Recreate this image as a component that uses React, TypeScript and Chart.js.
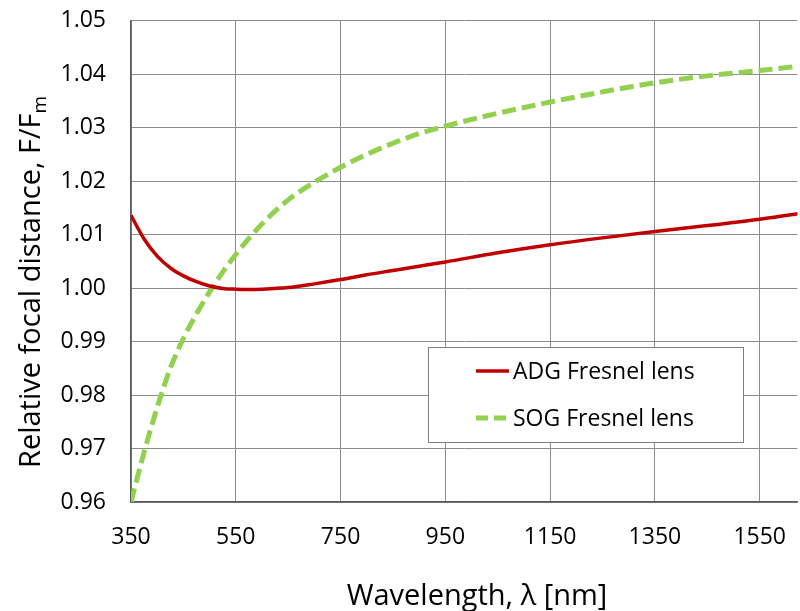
import React, { useEffect, useRef } from "react";
import { Chart, registerables } from "chart.js";

Chart.register(...registerables);

const WAVELENGTH = [350, 375, 400, 425, 450, 475, 500, 525, 550, 575, 600, 650, 700, 750, 800, 850, 900, 950, 1050, 1150, 1250, 1350, 1450, 1550, 1650];
const ADG = [1.0136, 1.0092, 1.0060, 1.0038, 1.0023, 1.0012, 1.0004, 0.99995, 0.9998, 0.99975, 0.9998, 1.0001, 1.0008, 1.0016, 1.0025, 1.0033, 1.0041, 1.0049, 1.0066, 1.0081, 1.0094, 1.0106, 1.0117, 1.0129, 1.0143];
const SOG = [0.9600, 0.9693, 0.9777, 0.9850, 0.9906, 0.9952, 0.9993, 1.0030, 1.0063, 1.0093, 1.0120, 1.0165, 1.0198, 1.0226, 1.0250, 1.0271, 1.0289, 1.0303, 1.0327, 1.0348, 1.0367, 1.0384, 1.0397, 1.0407, 1.0418];
const X_TICKS = [350, 550, 750, 950, 1150, 1350, 1550];
const Y_TICKS = [0.96, 0.97, 0.98, 0.99, 1.0, 1.01, 1.02, 1.03, 1.04, 1.05];
const X_MIN = 350;
const X_MAX = 1622;
const SERIES_NAMES = ["ADG Fresnel lens", "SOG Fresnel lens"];
const X_TITLE = "Wavelength, λ [nm]";
const Y_TITLE = "Relative focal distance, F/F";
const Y_TITLE_SUB = "m";

const FONT = '"Open Sans", "DejaVu Sans", sans-serif';
const RED = "#C00000";
const GREEN = "#92D050";
const SHIFT = 18;

const overlayPlugin = {
  id: "overlay",
  afterDraw(chart: any) {
    const ctx = chart.ctx as CanvasRenderingContext2D;
    ctx.save();
    ctx.translate(0, SHIFT);
    ctx.fillStyle = "#000";
    // x title
    ctx.font = `29px ${FONT}`;
    ctx.textAlign = "center";
    ctx.textBaseline = "alphabetic";
    ctx.fillText(X_TITLE, 477, 605);
    // y title
    ctx.save();
    ctx.translate(40, 468);
    ctx.rotate(-Math.PI / 2);
    ctx.textAlign = "left";
    ctx.font = `29px ${FONT}`;
    ctx.fillText(Y_TITLE, 0, 0);
    const w = ctx.measureText(Y_TITLE).width;
    ctx.font = `19px ${FONT}`;
    ctx.fillText(Y_TITLE_SUB, w, 6);
    ctx.restore();

    // legend
    const bx = 428.5, by = 347.5, bw = 315, bh = 95;
    ctx.fillStyle = "#fff";
    ctx.fillRect(bx, by, bw, bh);
    ctx.strokeStyle = "#7f7f7f";
    ctx.lineWidth = 1;
    ctx.strokeRect(bx, by, bw, bh);

    const rows = [
      { name: SERIES_NAMES[0], color: RED, dash: [] as number[], width: 3.5, y: 371 },
      { name: SERIES_NAMES[1], color: GREEN, dash: [12, 6], width: 5, y: 418 },
    ];
    for (const r of rows) {
      ctx.beginPath();
      ctx.strokeStyle = r.color;
      ctx.lineWidth = r.width;
      ctx.setLineDash(r.dash);
      ctx.moveTo(476, r.y);
      ctx.lineTo(509, r.y);
      ctx.stroke();
      ctx.setLineDash([]);
      ctx.fillStyle = "#000";
      ctx.font = `23px ${FONT}`;
      ctx.textAlign = "left";
      ctx.textBaseline = "middle";
      ctx.fillText(r.name, 513, r.y + 1);
    }
    ctx.restore();
  },
};

export default function App() {
  const ref = useRef<HTMLCanvasElement | null>(null);

  useEffect(() => {
    if (!ref.current) return;
    const toPts = (ys: number[]) => WAVELENGTH.map((x, i) => ({ x, y: ys[i] }));
    const chart = new Chart(ref.current, {
      type: "line",
      data: {
        datasets: [
          {
            label: SERIES_NAMES[0],
            data: toPts(ADG),
            borderColor: RED,
            borderWidth: 3.5,
            pointRadius: 0,
            cubicInterpolationMode: "monotone",
            fill: false,
          },
          {
            label: SERIES_NAMES[1],
            data: toPts(SOG),
            borderColor: GREEN,
            borderWidth: 5,
            borderDash: [14, 6],
            pointRadius: 0,
            cubicInterpolationMode: "monotone",
            fill: false,
          },
        ],
      },
      options: {
        responsive: false,
        animation: false,
        devicePixelRatio: 1,
        layout: { padding: { top: 2, right: 0, left: 0, bottom: 0 } },
        plugins: { legend: { display: false }, tooltip: { enabled: false } },
        scales: {
          x: {
            type: "linear",
            min: X_MIN,
            max: X_MAX,
            afterBuildTicks: (s: any) => {
              s.ticks = X_TICKS.map((v) => ({ value: v }));
            },
            afterFit: (s: any) => {
              s.height = 109;
            },
            grid: { color: "#8c8c8c", lineWidth: 1, drawTicks: false },
            border: { color: "#595959", width: 1.5 },
            ticks: {
              color: "#000",
              font: { family: FONT, size: 23 },
              padding: 22,
              maxRotation: 0,
              autoSkip: false,
              callback: (v: any) => String(v),
            },
          },
          y: {
            type: "linear",
            min: Y_TICKS[0],
            max: Y_TICKS[Y_TICKS.length - 1],
            afterBuildTicks: (s: any) => {
              s.ticks = Y_TICKS.map((v) => ({ value: v }));
            },
            afterFit: (s: any) => {
              s.width = 131;
            },
            grid: { color: "#8c8c8c", lineWidth: 1, drawTicks: false },
            border: { color: "#595959", width: 1.5 },
            ticks: {
              color: "#000",
              font: { family: FONT, size: 23 },
              padding: 25,
              autoSkip: false,
              callback: (v: any) => Number(v).toFixed(2),
            },
          },
        },
      },
      plugins: [overlayPlugin],
    });
    return () => chart.destroy();
  }, []);

  return (
    <div style={{ position: "fixed", left: 0, top: 0, width: 800, height: 611, background: "#fff", overflow: "hidden" }}>
      <canvas
        ref={ref}
        width={808}
        height={611 + SHIFT}
        style={{ display: "block", position: "absolute", left: 0, top: -SHIFT, width: 808, height: 611 + SHIFT }}
      />
    </div>
  );
}
